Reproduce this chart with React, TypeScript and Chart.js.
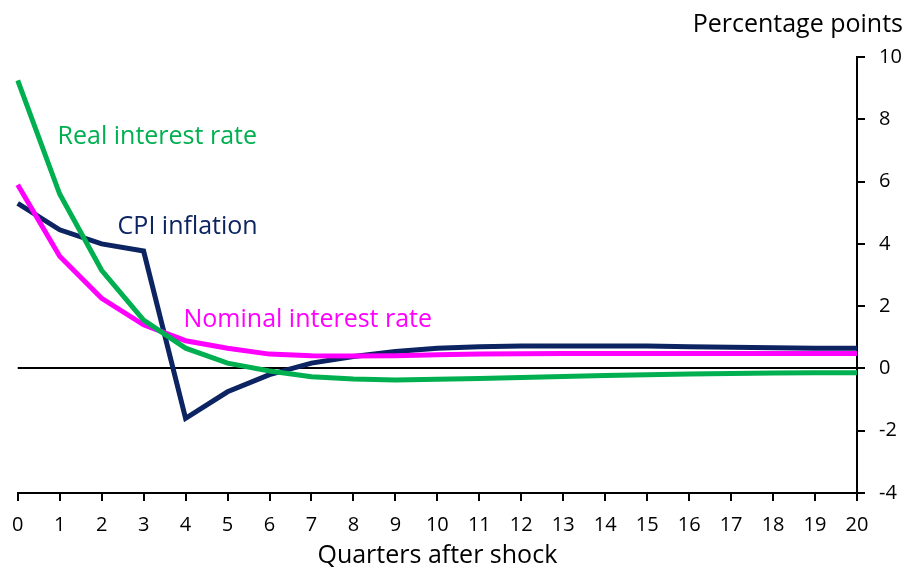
import React, { useEffect, useRef } from "react";
import { Chart, registerables } from "chart.js";

Chart.register(...registerables);

const quarters = ["0", "1", "2", "3", "4", "5", "6", "7", "8", "9", "10", "11", "12", "13", "14", "15", "16", "17", "18", "19", "20"];
const cpiInflation = [5.3, 4.45, 4.0, 3.77, -1.6, -0.75, -0.2, 0.17, 0.38, 0.54, 0.65, 0.7, 0.72, 0.72, 0.72, 0.72, 0.7, 0.68, 0.66, 0.65, 0.65];
const realRate = [9.25, 5.6, 3.15, 1.55, 0.65, 0.17, -0.08, -0.27, -0.34, -0.37, -0.35, -0.32, -0.29, -0.26, -0.23, -0.2, -0.18, -0.16, -0.15, -0.14, -0.14];
const nominalRate = [5.9, 3.6, 2.25, 1.4, 0.89, 0.65, 0.46, 0.41, 0.4, 0.41, 0.44, 0.46, 0.47, 0.48, 0.48, 0.48, 0.48, 0.48, 0.48, 0.48, 0.48];

const seriesNames = ["Real interest rate", "CPI inflation", "Nominal interest rate"];
const seriesColors = ["#00b050", "#0c2461", "#ff00ff"];
// label anchors in data units: [x (quarter), y (percentage points)]
const labelAnchors: [number, number][] = [[0.95, 7.43], [2.38, 4.54], [3.95, 1.55]];
const yTitle = "Percentage points";
const xTitle = "Quarters after shock";

const FONT = "'Open Sans', sans-serif";

export default function App() {
  const ref = useRef<HTMLCanvasElement | null>(null);

  useEffect(() => {
    if (!ref.current) return;
    const labelsPlugin = {
      id: "seriesLabels",
      afterDraw(chart: any) {
        const ctx = chart.ctx;
        const xs = chart.scales.x;
        const ys = chart.scales.y;
        ctx.save();
        ctx.font = `25px ${FONT}`;
        ctx.textBaseline = "middle";
        ctx.textAlign = "left";
        seriesNames.forEach((name, i) => {
          const [xv, yv] = labelAnchors[i];
          const x0 = xs.getPixelForValue(0);
          const x1 = xs.getPixelForValue(1);
          const px = x0 + (x1 - x0) * xv;
          ctx.fillStyle = seriesColors[i];
          ctx.fillText(name, px, ys.getPixelForValue(yv));
        });
        ctx.fillStyle = "#000";
        ctx.textAlign = "right";
        ctx.fillText(yTitle, chart.width - 6, 25);
        ctx.restore();
      },
    };

    const chart = new Chart(ref.current, {
      type: "line",
      data: {
        labels: quarters,
        datasets: [
          { label: seriesNames[0], data: realRate, borderColor: seriesColors[0], backgroundColor: seriesColors[0], borderWidth: 5, pointRadius: 0, tension: 0 },
          { label: seriesNames[2], data: nominalRate, borderColor: seriesColors[2], backgroundColor: seriesColors[2], borderWidth: 5, pointRadius: 0, tension: 0 },
          { label: seriesNames[1], data: cpiInflation, borderColor: seriesColors[1], backgroundColor: seriesColors[1], borderWidth: 5, pointRadius: 0, tension: 0 },
        ],
      },
      options: {
        animation: false,
        responsive: false,
        maintainAspectRatio: false,
        layout: { padding: { left: 17, top: 57, right: 0, bottom: 0 } },
        plugins: { legend: { display: false }, tooltip: { enabled: false } },
        scales: {
          x: {
            offset: false,
            border: { display: true, color: "#000", width: 2 },
            grid: { drawOnChartArea: false, drawTicks: true, tickLength: 8, tickColor: "#000", lineWidth: 2 },
            ticks: { color: "#000", font: { family: FONT, size: 20 }, padding: 12, maxRotation: 0, autoSkip: false },
            title: { display: true, text: xTitle, color: "#000", font: { family: FONT, size: 25 }, padding: { top: 0, bottom: 1 } },
            afterFit(scale: any) { scale.height = 79; },
          },
          y: {
            position: "right",
            min: -4,
            max: 10,
            border: { display: true, color: "#000", width: 2 },
            grid: {
              drawOnChartArea: true,
              drawTicks: true,
              tickLength: 8,
              tickColor: "#000",
              lineWidth: 2,
              color: (c: any) => (c.tick && c.tick.value === 0 ? "#000" : "rgba(0,0,0,0)"),
            },
            ticks: { stepSize: 2, color: "#000", font: { family: FONT, size: 20 }, padding: 14 },
            afterFit(scale: any) { scale.width = 52; },
          },
        },
      },
      plugins: [labelsPlugin],
    });
    return () => chart.destroy();
  }, []);

  return (
    <div style={{ position: "absolute", left: 0, top: 0, width: 909, height: 572, background: "#fff" }}>
      <canvas ref={ref} width={909} height={572} style={{ width: 909, height: 572 }} />
    </div>
  );
}
